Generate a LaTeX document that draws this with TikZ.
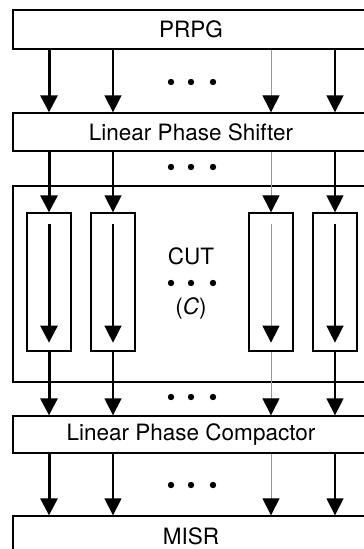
\documentclass[tikz,border=0pt]{standalone}
\usepackage{fontspec}
\setmainfont{TeX Gyre Heros}
\usetikzlibrary{arrows.meta}
\begin{document}
\begin{tikzpicture}[x=1pt,y=-1pt,
  bar/.style={draw,line width=1.3pt,minimum width=356pt,inner sep=0pt,
    font=\fontsize{22.5}{26}\selectfont},
  chain/.style={draw,line width=1.3pt,minimum width=44pt,minimum height=138pt,inner sep=0pt},
  head/.style={-{Triangle[length=17pt,width=17pt,color=black]}},
  heavy/.style={head,line width=3pt},
  normal/.style={head,line width=1.4pt},
  light/.style={head,line width=1pt,draw=black!40},
  dotstyle/.style={fill=black}
]
\clip (0,0) rectangle (364,549);
\fill[white] (0,0) rectangle (364,549);
% column positions
\coordinate (c1) at (49,0);
\coordinate (c2) at (113,0);
\coordinate (c3) at (271,0);
\coordinate (c4) at (335,0);
% bars
\node[bar,minimum height=39pt] (prpg) at (191,29.5) {PRPG};
\node[bar,minimum height=38pt] (lps) at (191,132) {Linear Phase Shifter};
\node[bar,minimum height=196pt] (cut) at (191,284) {};
\node[bar,minimum height=37pt] (lpc) at (191,434.5) {Linear Phase Compactor};
\node[bar,minimum height=40pt] (misr) at (191,536) {MISR};
% scan chains
\node[chain] (s1) at (49,282) {};
\node[chain] (s2) at (113,282) {};
\node[chain] (s3) at (271,282) {};
\node[chain] (s4) at (335,282) {};
% CUT label
\node[font=\fontsize{22.5}{26}\selectfont,inner sep=0pt] (cutlabel) at (191,256) {CUT};
\node[font=\fontsize{22.5}{26}\selectfont,inner sep=0pt] (clabel) at (191,308) {(\textit{C})};
% dots
\foreach \y in {82,167,283,397,485}{
  \foreach \x in {171,191,213}{
    \fill[dotstyle] (\x,\y) circle (3.2pt);
  }
}
% PRPG -> LPS
\draw[heavy] (prpg.south -| c1) -- (lps.north -| c1);
\draw[normal] (prpg.south -| c2) -- (lps.north -| c2);
\draw[light] (prpg.south -| c3) -- (lps.north -| c3);
\draw[normal] (prpg.south -| c4) -- (lps.north -| c4);
% LPS -> chains
\draw[heavy] (lps.south -| c1) -- (s1.north);
\draw[normal] (lps.south -| c2) -- (s2.north);
\draw[light] (lps.south -| c3) -- (s3.north);
\draw[normal] (lps.south -| c4) -- (s4.north);
% inside chains
\draw[heavy] ([yshift=-12pt]s1.north) -- ([yshift=9pt]s1.south);
\draw[normal] ([yshift=-12pt]s2.north) -- ([yshift=9pt]s2.south);
\draw[light] ([yshift=-12pt]s3.north) -- ([yshift=9pt]s3.south);
\draw[normal] ([yshift=-12pt]s4.north) -- ([yshift=9pt]s4.south);
% chains -> LPC
\draw[heavy] (s1.south) -- (lpc.north -| c1);
\draw[normal] (s2.south) -- (lpc.north -| c2);
\draw[light] (s3.south) -- (lpc.north -| c3);
\draw[normal] (s4.south) -- (lpc.north -| c4);
% LPC -> MISR
\draw[heavy] (lpc.south -| c1) -- (misr.north -| c1);
\draw[normal] (lpc.south -| c2) -- (misr.north -| c2);
\draw[light] (lpc.south -| c3) -- (misr.north -| c3);
\draw[normal] (lpc.south -| c4) -- (misr.north -| c4);
\end{tikzpicture}
\end{document}
